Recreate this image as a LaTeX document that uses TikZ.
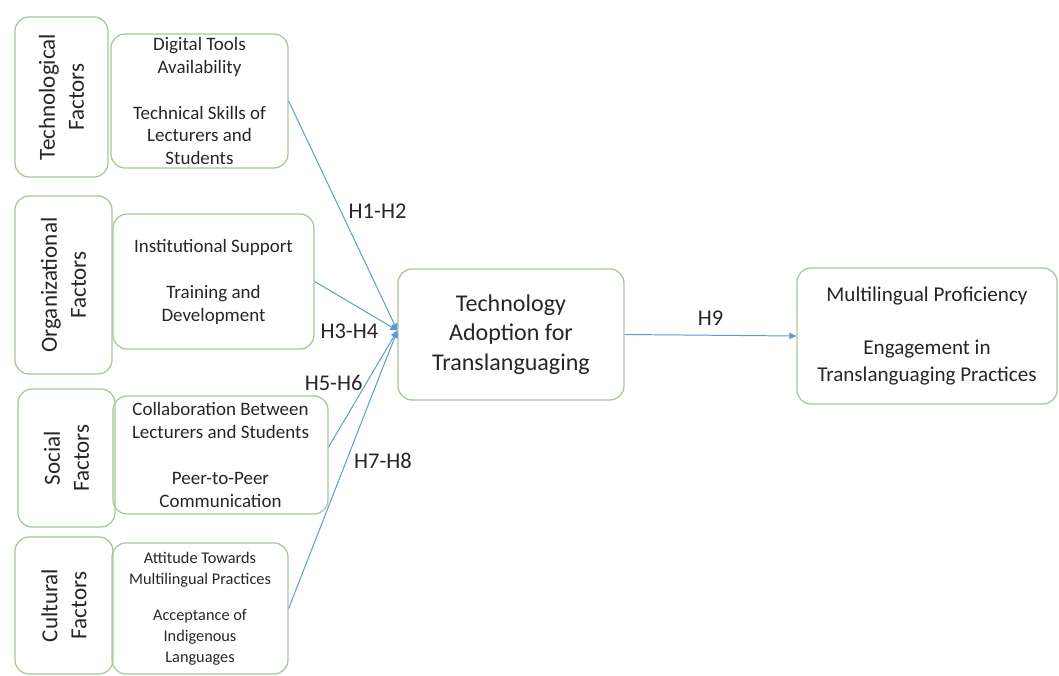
\documentclass[tikz,border=0pt]{standalone}
\usepackage{fontspec}
\setmainfont{Carlito}
\usepackage{tikz}
\usetikzlibrary{arrows.meta, calc}
\definecolor{boxgreen}{HTML}{A8C896}
\definecolor{linkblue}{HTML}{5B9BD5}
\definecolor{txtgray}{HTML}{262626}

\begin{document}
\begin{tikzpicture}[
  >={Triangle[length=5pt, width=4.5pt]},
  box/.style={
    draw=boxgreen, line width=0.9pt, rounded corners=10pt,
    align=center, text=txtgray, inner sep=2pt
  },
  factor/.style={box, rotate=90, font=\fontsize{16.4}{20.6}\selectfont},
  item/.style={box, font=\fontsize{13.5}{16}\selectfont},
  smallitem/.style={box, font=\fontsize{11.6}{14.6}\selectfont},
  core/.style={box, font=\fontsize{17.1}{21}\selectfont},
  outcome/.style={box, font=\fontsize{15}{19.2}\selectfont},
  hyp/.style={->, linkblue, line width=0.7pt},
  hlabel/.style={font=\fontsize{16}{19}\selectfont, text=txtgray, inner sep=1pt},
]
\useasboundingbox (0,0) rectangle (26.475,16.875);

% Factor groups
\node[factor, minimum width=4.0cm, minimum height=2.325cm] (techf) at (1.5375, 14.45) {Technological\\Factors};
\node[factor, minimum width=4.45cm, minimum height=2.425cm] (orgf) at (1.5875, 9.75) {Organizational\\Factors};
\node[factor, minimum width=3.45cm, minimum height=2.425cm] (socf) at (1.6625, 5.425) {Social\\Factors};
\node[factor, minimum width=3.425cm, minimum height=2.45cm] (culf) at (1.6, 1.7375) {Cultural\\Factors};

% Factor items
\node[item, minimum width=4.425cm, minimum height=3.35cm] (techi) at (4.9875, 14.35)
  {Digital Tools\\Availability\\[17pt]Technical Skills of\\Lecturers and\\Students};
\node[item, minimum width=5.025cm, minimum height=3.375cm] (orgi) at (5.3375, 9.8375)
  {Institutional Support\\[17pt]Training and\\Development};
\node[item, minimum width=5.375cm, minimum height=2.95cm] (soci) at (5.5125, 5.5)
  {Collaboration Between\\Lecturers and Students\\[17pt]Peer-to-Peer\\Communication};
\node[smallitem, minimum width=4.4cm, minimum height=3.275cm] (culi) at (5.0, 1.6625)
  {Attitude Towards\\Multilingual Practices\\[11.7pt]Acceptance of\\Indigenous\\Languages};

% Adoption and outcome
\node[core, minimum width=5.65cm, minimum height=3.275cm] (tech) at (12.775, 8.5125)
  {Technology\\Adoption for\\Translanguaging};
\node[outcome, minimum width=6.5cm, minimum height=3.4cm] (prof) at (23.175, 8.475)
  {Multilingual Proficiency\\[18.5pt]Engagement in\\Translanguaging Practices};

\coordinate (hub) at ($(tech.west)+(0,0.1)$);

% Hypotheses
\draw[hyp] (techi.east) -- (hub) node[hlabel, pos=0.48, right=0.15cm] {H1-H2};
\draw[hyp] (orgi.east) -- (hub) node[hlabel, pos=0.42, below=0.5cm] {H3-H4};
\draw[hyp] ([yshift=0.2cm]soci.east) -- (hub) node[hlabel, pos=0.55, left=0.05cm] {H5-H6};
\draw[hyp] (culi.east) -- (hub) node[hlabel, pos=0.53, right=0.15cm] {H7-H8};
\draw[hyp] (tech.east) -- (prof.west) node[hlabel, midway, above=0.2cm] {H9};

\end{tikzpicture}
\end{document}
